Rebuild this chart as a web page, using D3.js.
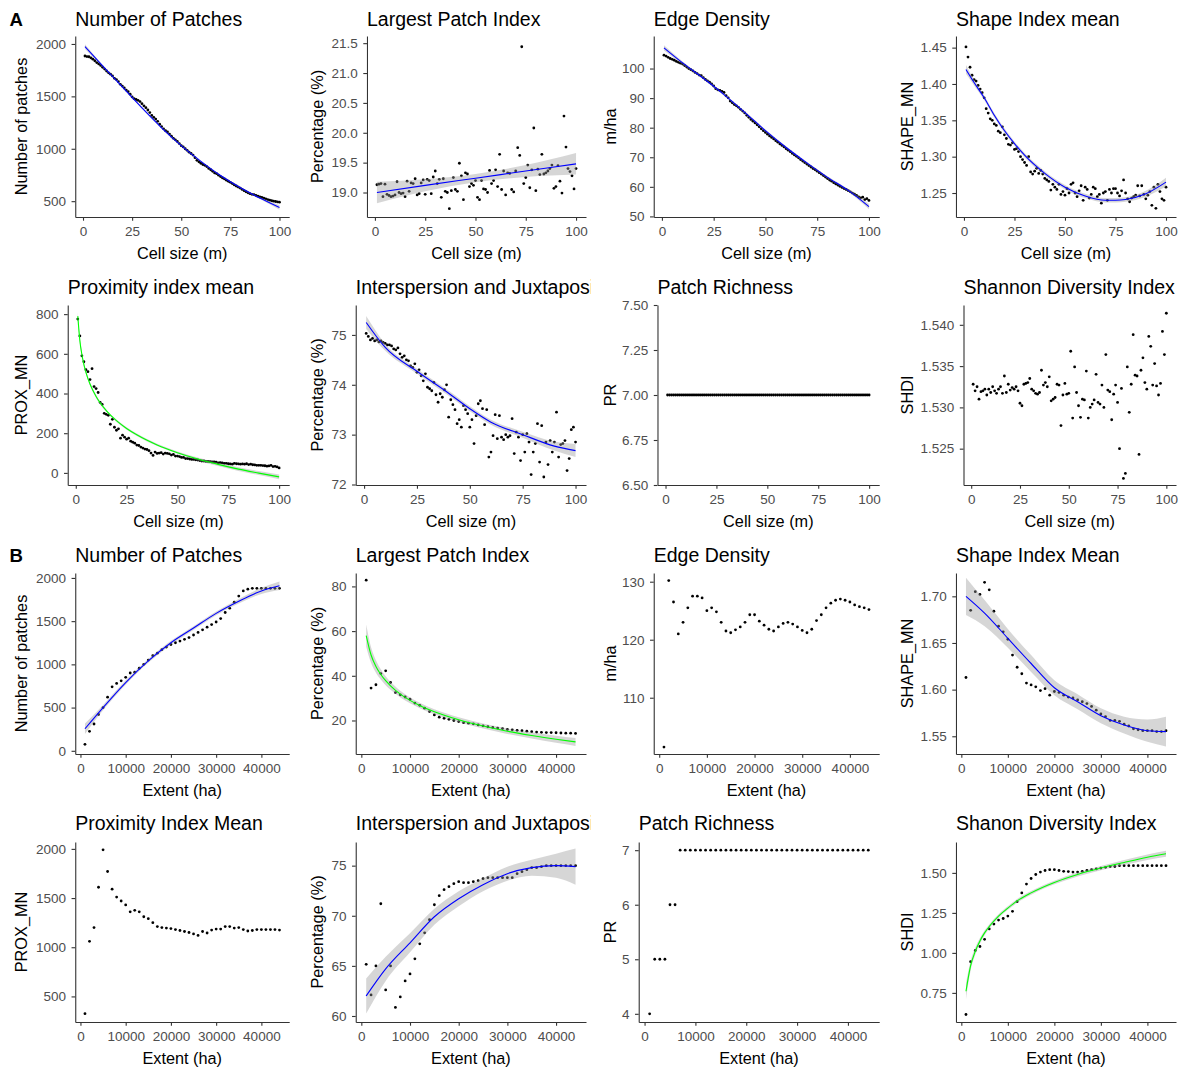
<!DOCTYPE html>
<html><head><meta charset="utf-8">
<script src="https://cdn.jsdelivr.net/npm/d3@7"></script>
<style>body{margin:0;background:#fff}svg{display:block}</style>
</head><body>
<svg id="c" width="1180" height="1070"></svg>
<script>
// ---------------- DATA ----------------
const cellSize = [1,2,3,4,5,6,7,8,9,10,11,12,13,14,15,16,17,18,19,20,21,22,23,24,25,26,27,28,29,30,31,32,33,34,35,36,37,38,39,40,41,42,43,44,45,46,47,48,49,50,51,52,53,54,55,56,57,58,59,60,61,62,63,64,65,66,67,68,69,70,71,72,73,74,75,76,77,78,79,80,81,82,83,84,85,86,87,88,89,90,91,92,93,94,95,96,97,98,99,100];
const extentHa = [1000,2000,3000,4000,5000,6000,7000,8000,9000,10000,11000,12000,13000,14000,15000,16000,17000,18000,19000,20000,21000,22000,23000,24000,25000,26000,27000,28000,29000,30000,31000,32000,33000,34000,35000,36000,37000,38000,39000,40000,41000,42000,43000,44000];

const xTicksA = ['0','25','50','75','100'];
const xTicksB = ['0','10000','20000','30000','40000'];

// A: cell size series
const npA = [1885,1880,1878,1868,1855,1840,1822,1810,1795,1778,1760,1742,1725,1712,1695,1672,1660,1640,1615,1598,1580,1560,1545,1520,1495,1478,1470,1462,1450,1430,1410,1392,1370,1345,1318,1300,1283,1262,1235,1212,1190,1172,1160,1140,1120,1100,1085,1070,1050,1030,1018,1000,985,968,955,940,915,890,875,862,850,842,830,812,800,785,770,762,748,735,722,712,700,690,680,668,655,645,635,625,612,600,590,580,572,565,562,555,548,540,535,528,522,515,510,505,500,497,493,490];
const lpiA = [19.13,19.14,19.15,18.93,19.14,18.97,18.95,18.93,18.94,18.96,19.18,19.00,18.98,18.99,18.93,19.19,19.02,19.16,19.15,19.23,18.96,18.98,19.16,19.21,18.97,19.22,19.20,18.98,19.26,19.36,19.15,19.22,18.92,19.23,19.02,19.00,18.73,19.03,19.25,19.05,19.02,19.49,19.28,18.88,19.33,19.31,19.10,19.15,19.12,19.20,18.92,18.88,19.20,19.06,19.05,19.00,19.37,19.15,19.20,19.38,19.10,19.64,19.05,19.36,18.96,19.33,19.32,19.05,19.01,19.36,19.75,19.62,21.44,19.15,19.25,19.46,19.08,19.38,20.08,19.03,19.39,19.30,19.64,19.31,19.33,19.36,19.40,19.46,19.07,19.10,19.45,19.19,18.99,20.28,19.76,19.40,19.35,19.28,19.06,19.40];
const edA = [104.5,104.2,103.8,103.4,103.1,102.8,102.4,102.1,101.8,101.5,101.0,100.5,100.0,99.6,99.2,98.7,98.3,97.8,97.6,96.9,96.3,95.8,95.4,94.8,94.1,93.2,92.8,92.6,92.3,91.9,90.8,90.1,89.0,88.4,87.8,87.4,86.9,86.2,85.6,85.0,84.2,83.5,82.8,82.2,81.6,81.0,80.3,79.6,79.0,78.4,77.8,77.2,76.7,76.2,75.6,75.1,74.5,74.0,73.5,72.9,72.4,71.9,71.3,70.8,70.3,69.8,69.2,68.7,68.2,67.7,67.2,66.7,66.2,65.8,65.3,64.8,64.3,63.8,63.3,62.8,62.3,61.9,61.4,61.0,60.6,60.2,59.8,59.4,59.1,58.7,58.3,57.9,57.5,57.1,56.6,56.3,56.5,55.7,56.0,55.4];
const shapeA = [1.451,1.437,1.423,1.412,1.406,1.404,1.398,1.393,1.388,1.381,1.366,1.360,1.352,1.350,1.345,1.343,1.335,1.333,1.341,1.330,1.325,1.317,1.316,1.319,1.310,1.311,1.307,1.300,1.296,1.292,1.288,1.300,1.279,1.276,1.280,1.284,1.277,1.281,1.276,1.270,1.268,1.266,1.254,1.262,1.258,1.255,1.262,1.248,1.252,1.247,1.256,1.250,1.262,1.264,1.250,1.245,1.253,1.260,1.240,1.258,1.255,1.243,1.248,1.258,1.256,1.245,1.248,1.236,1.250,1.252,1.240,1.255,1.250,1.256,1.256,1.250,1.246,1.253,1.268,1.250,1.242,1.238,1.243,1.245,1.247,1.260,1.246,1.260,1.248,1.242,1.247,1.252,1.233,1.258,1.229,1.262,1.252,1.242,1.240,1.258];
const proxA = [775,690,590,560,520,510,470,525,435,425,405,355,345,300,295,290,245,270,230,215,222,175,190,180,170,175,160,155,150,140,138,130,125,120,118,112,100,88,105,98,100,102,95,100,98,96,90,93,85,85,82,78,78,72,72,70,68,68,66,65,62,60,60,58,58,57,55,55,54,50,52,50,48,48,46,45,44,48,46,45,44,45,44,46,42,44,41,40,38,38,38,37,36,34,35,38,32,33,30,25];
const ijiA = [75.03,74.97,74.90,74.93,74.88,74.90,74.86,74.88,74.85,74.83,74.80,74.80,74.78,74.72,74.70,74.74,74.62,74.55,74.58,74.50,74.48,74.38,74.35,74.42,74.25,74.30,74.18,74.08,74.22,73.95,73.92,73.88,74.05,73.80,73.65,73.82,73.75,73.90,74.00,73.35,73.70,73.60,73.50,73.22,73.30,73.15,73.58,73.50,73.42,73.15,73.30,72.82,73.38,73.62,73.68,73.52,73.20,73.50,72.55,72.65,72.98,73.40,72.92,73.38,72.95,72.90,73.00,72.95,72.98,73.32,72.62,73.05,72.95,72.48,73.00,72.65,73.02,72.85,72.20,72.65,72.82,73.22,72.45,73.18,72.15,72.85,72.40,72.88,72.65,72.85,73.45,72.55,72.80,72.82,72.88,72.28,72.52,73.10,73.15,72.85];
const prA = [7,7,7,7,7,7,7,7,7,7,7,7,7,7,7,7,7,7,7,7,7,7,7,7,7,7,7,7,7,7,7,7,7,7,7,7,7,7,7,7,7,7,7,7,7,7,7,7,7,7,7,7,7,7,7,7,7,7,7,7,7,7,7,7,7,7,7,7,7,7,7,7,7,7,7,7,7,7,7,7,7,7,7,7,7,7,7,7,7,7,7,7,7,7,7,7,7,7,7,7];
const shdiA = [1.5328,1.5320,1.5325,1.5310,1.5319,1.5320,1.5322,1.5315,1.5322,1.5318,1.5325,1.5320,1.5317,1.5322,1.5325,1.5317,1.5338,1.5318,1.5328,1.5321,1.5324,1.5322,1.5325,1.5320,1.5305,1.5302,1.5328,1.5329,1.5330,1.5335,1.5322,1.5320,1.5317,1.5316,1.5318,1.5345,1.5327,1.5330,1.5325,1.5337,1.5308,1.5310,1.5312,1.5328,1.5327,1.5278,1.5315,1.5329,1.5316,1.5317,1.5368,1.5287,1.5349,1.5318,1.5302,1.5288,1.5310,1.5309,1.5344,1.5287,1.5300,1.5304,1.5309,1.5340,1.5306,1.5304,1.5327,1.5300,1.5364,1.5321,1.5319,1.5285,1.5316,1.5327,1.5306,1.5250,1.5323,1.5214,1.5220,1.5349,1.5294,1.5328,1.5388,1.5339,1.5338,1.5243,1.5345,1.5360,1.5330,1.5322,1.5386,1.5374,1.5327,1.5353,1.5326,1.5315,1.5329,1.5392,1.5364,1.5414];

// B: extent series
const npB = [75,225,310,420,500,620,740,780,810,850,900,910,955,1000,1050,1100,1130,1170,1200,1230,1250,1270,1290,1310,1340,1370,1400,1430,1460,1490,1530,1600,1650,1720,1790,1850,1870,1880,1880,1880,1880,1880,1880,1880];
const lpiB = [82.8,34.5,36.0,41.0,42.2,37.0,32.5,31.5,30.5,29.5,27.8,26.8,25.5,24.0,22.5,21.5,21.0,20.5,20.0,19.5,19.0,18.8,18.5,18.0,17.6,17.2,16.9,16.6,16.4,16.0,15.8,15.6,15.4,15.2,15.0,14.8,14.7,14.6,14.6,14.5,14.4,14.3,14.3,14.2];
const edB = [101.5,130.2,126.5,121.0,123.0,125.5,127.5,127.5,127.2,125.0,125.5,124.8,123.0,121.5,121.2,121.7,122.2,123.0,124.3,124.3,123.2,122.5,121.8,121.5,122.2,122.8,123.0,122.7,122.2,121.6,121.2,121.8,123.3,124.3,125.5,126.3,126.8,127.0,126.8,126.5,126.0,125.7,125.5,125.2];
const shapeB = [1.613,1.685,1.705,1.702,1.715,1.707,1.684,1.668,1.662,1.654,1.637,1.624,1.617,1.607,1.605,1.603,1.599,1.601,1.594,1.598,1.597,1.594,1.592,1.591,1.589,1.587,1.585,1.582,1.578,1.574,1.571,1.567,1.567,1.566,1.563,1.561,1.558,1.557,1.556,1.556,1.556,1.555,1.555,1.556];
const proxB = [325,1060,1200,1610,1990,1770,1590,1510,1470,1430,1360,1375,1360,1310,1290,1250,1210,1200,1195,1190,1180,1170,1160,1150,1135,1120,1160,1145,1175,1185,1185,1210,1210,1195,1200,1180,1165,1170,1180,1180,1180,1180,1180,1175];
const ijiB = [65.15,62.1,65.0,71.2,62.6,65.0,60.85,61.9,63.5,64.2,65.7,67.2,68.3,69.6,71.1,72.0,72.6,72.9,73.2,73.4,73.3,73.3,73.4,73.5,73.7,73.8,73.8,73.8,73.8,73.8,73.8,74.2,74.4,74.6,74.8,74.8,74.9,75.0,75.0,75.0,75.0,75.0,75.0,75.0];
const prB = [4,5,5,5,6,6,7,7,7,7,7,7,7,7,7,7,7,7,7,7,7,7,7,7,7,7,7,7,7,7,7,7,7,7,7,7,7,7,7,7,7,7,7,7];
const shdiB = [0.615,0.945,1.015,1.04,1.085,1.15,1.18,1.205,1.215,1.23,1.26,1.32,1.375,1.43,1.465,1.49,1.505,1.515,1.52,1.52,1.515,1.51,1.508,1.505,1.505,1.51,1.515,1.52,1.525,1.53,1.535,1.54,1.54,1.545,1.545,1.545,1.545,1.545,1.545,1.545,1.545,1.545,1.545,1.545];

// fitted smooths: x, fitted value, half-width of confidence band
const npAFitX = [1,10,20,30,40,50,60,70,80,90,100];
const npAFitY = [1975,1790,1590,1390,1200,1030,880,745,630,530,440];
const npAFitH = [22,10,8,8,8,8,8,8,8,10,22];
const lpiAFitX = [1,25,50,75,100];
const lpiAFitY = [19.0,19.12,19.24,19.36,19.48];
const lpiAFitH = [0.18,0.10,0.07,0.10,0.18];
const edAFitX = [1,10,20,30,40,50,60,70,80,90,100];
const edAFitY = [107.0,101.9,96.7,91.2,85.2,79.0,73.3,68.1,63.2,58.8,53.3];
const edAFitH = [0.9,0.5,0.4,0.4,0.4,0.4,0.4,0.4,0.4,0.5,0.9];
const shapeAFitX = [1,5,10,15,20,25,30,40,50,60,70,75,80,90,100];
const shapeAFitY = [1.420,1.402,1.381,1.357,1.336,1.318,1.302,1.277,1.258,1.246,1.240,1.240,1.241,1.249,1.265];
const shapeAFitH = [0.006,0.004,0.003,0.003,0.003,0.003,0.003,0.003,0.003,0.003,0.003,0.003,0.003,0.004,0.006];
const proxAFitX = [1,2,3,4,5,7,10,15,20,25,30,40,50,60,70,80,90,100];
const proxAFitY = [790,668,597,546,507,448,385,314,263,224,192,141,102,70,43,19,-1,-20];
const proxAFitH = [20,15,12,10,9,8,7,6,6,6,6,6,6,7,8,9,10,12];
const ijiAFitX = [1,10,25,40,50,60,75,90,100];
const ijiAFitY = [75.25,74.75,74.27,73.83,73.52,73.25,73.0,72.77,72.68];
const ijiAFitH = [0.13,0.07,0.05,0.05,0.05,0.05,0.06,0.09,0.13];

const npBFitX = [1000,5000,10000,15000,20000,25000,30000,35000,40000,44000];
const npBFitY = [255,500,790,1040,1250,1420,1590,1730,1850,1910];
const npBFitH = [60,30,25,22,22,22,22,25,35,50];
const lpiBFitX = [1000,2000,3000,4000,5000,6000,8000,10000,12000,15000,20000,25000,30000,35000,40000,44000];
const lpiBFitY = [58,49.3,44.2,40.6,37.8,35.5,31.8,29.0,26.7,23.9,20.3,17.5,15.2,13.3,11.6,10.4];
const lpiBFitH = [5,3.5,2.8,2.3,2,1.8,1.5,1.3,1.2,1.1,1.1,1.1,1.2,1.4,1.6,1.8];
const shapeBFitX = [1000,5000,10000,15000,20000,25000,30000,35000,40000,44000];
const shapeBFitY = [1.700,1.682,1.655,1.628,1.602,1.587,1.572,1.562,1.556,1.555];
const shapeBFitH = [0.020,0.014,0.010,0.009,0.008,0.008,0.008,0.009,0.012,0.016];
const ijiBFitX = [1000,5000,10000,15000,20000,25000,30000,35000,40000,44000];
const ijiBFitY = [62.0,64.7,67.3,69.9,71.7,73.1,74.2,74.8,75.0,74.9];
const ijiBFitH = [1.75,1.2,0.95,0.8,0.75,0.65,0.7,0.8,1.2,1.8];
const shdiBFitX = [1000,2000,3000,4000,5000,6000,8000,10000,12000,15000,20000,25000,30000,35000,40000,44000];
const shdiBFitY = [0.76,0.92,1.01,1.075,1.125,1.165,1.23,1.28,1.325,1.375,1.44,1.49,1.53,1.565,1.598,1.62];
const shdiBFitH = [0.05,0.03,0.022,0.018,0.015,0.013,0.012,0.011,0.011,0.011,0.011,0.012,0.013,0.015,0.017,0.019];

// y tick labels
const npATicks = ['500','1000','1500','2000'];
const lpiATicks = ['19.0','19.5','20.0','20.5','21.0','21.5'];
const edATicks = ['50','60','70','80','90','100'];
const shapeATicks = ['1.25','1.30','1.35','1.40','1.45'];
const proxATicks = ['0','200','400','600','800'];
const ijiATicks = ['72','73','74','75'];
const prATicks = ['6.50','6.75','7.00','7.25','7.50'];
const shdiATicks = ['1.525','1.530','1.535','1.540'];
const npBTicks = ['0','500','1000','1500','2000'];
const lpiBTicks = ['20','40','60','80'];
const edBTicks = ['110','120','130'];
const shapeBTicks = ['1.55','1.60','1.65','1.70'];
const proxBTicks = ['500','1000','1500','2000'];
const ijiBTicks = ['60','65','70','75'];
const prBTicks = ['4','5','6','7'];
const shdiBTicks = ['0.75','1.00','1.25','1.50'];

// ---------------- LAYOUT / STYLE ----------------
const FONT = '"Liberation Sans", Arial, Helvetica, sans-serif';
const BLUE = '#0000ff', GREEN = '#00ff00';
const rowTop = [36, 305, 573, 842];
const rowBottom = [217, 485, 754, 1022];
const rowTitleBase = [26, 294, 562, 830];
const colLabelLeft = [36, 331.5, 622, 920.5];
const colYTitleX = [20.8, 316.8, 610, 907.6];
const colRight = [289.2, 586, 879.2, 1176];
const colClip = [[0,295],[295,591],[591,886],[886,1180]];

const panels = [
 {row:0,col:0,title:'Number of Patches',yt:'Number of patches',xt:'Cell size (m)',x:cellSize,y:npA,dom:[349,2076],yl:npATicks,xl:xTicksA,fit:[npAFitX,npAFitY,npAFitH],fc:BLUE},
 {row:0,col:1,title:'Largest Patch Index',yt:'Percentage (%)',xt:'Cell size (m)',x:cellSize,y:lpiA,dom:[18.59,21.62],yl:lpiATicks,xl:xTicksA,fit:[lpiAFitX,lpiAFitY,lpiAFitH],fc:BLUE},
 {row:0,col:2,title:'Edge Density',yt:'m/ha',xt:'Cell size (m)',x:cellSize,y:edA,dom:[49.8,111],yl:edATicks,xl:xTicksA,fit:[edAFitX,edAFitY,edAFitH],fc:BLUE},
 {row:0,col:3,title:'Shape Index mean',yt:'SHAPE_MN',xt:'Cell size (m)',x:cellSize,y:shapeA,dom:[1.217,1.466],yl:shapeATicks,xl:xTicksA,fit:[shapeAFitX,shapeAFitY,shapeAFitH],fc:BLUE},
 {row:1,col:0,title:'Proximity index mean',yt:'PROX_MN',xt:'Cell size (m)',x:cellSize,y:proxA,dom:[-61,846],yl:proxATicks,xl:xTicksA,fit:[proxAFitX,proxAFitY,proxAFitH],fc:GREEN},
 {row:1,col:1,title:'Interspersion and Juxtaposition',yt:'Percentage (%)',xt:'Cell size (m)',x:cellSize,y:ijiA,dom:[71.99,75.6],yl:ijiATicks,xl:xTicksA,fit:[ijiAFitX,ijiAFitY,ijiAFitH],fc:BLUE},
 {row:1,col:2,title:'Patch Richness',yt:'PR',xt:'Cell size (m)',x:cellSize,y:prA,dom:[6.5,7.5],yl:prATicks,xl:xTicksA,fit:null},
 {row:1,col:3,title:'Shannon Diversity Index',yt:'SHDI',xt:'Cell size (m)',x:cellSize,y:shdiA,dom:[1.5206,1.5424],yl:shdiATicks,xl:xTicksA,fit:null},
 {row:2,col:0,title:'Number of Patches',yt:'Number of patches',xt:'Extent (ha)',x:extentHa,y:npB,dom:[-37,2057],yl:npBTicks,xl:xTicksB,fit:[npBFitX,npBFitY,npBFitH],fc:BLUE},
 {row:2,col:1,title:'Largest Patch Index',yt:'Percentage (%)',xt:'Extent (ha)',x:extentHa,y:lpiB,dom:[5,86],yl:lpiBTicks,xl:xTicksB,fit:[lpiBFitX,lpiBFitY,lpiBFitH],fc:GREEN},
 {row:2,col:2,title:'Edge Density',yt:'m/ha',xt:'Extent (ha)',x:extentHa,y:edB,dom:[100.3,131.5],yl:edBTicks,xl:xTicksB,fit:null},
 {row:2,col:3,title:'Shape Index Mean',yt:'SHAPE_MN',xt:'Extent (ha)',x:extentHa,y:shapeB,dom:[1.531,1.725],yl:shapeBTicks,xl:xTicksB,fit:[shapeBFitX,shapeBFitY,shapeBFitH],fc:BLUE},
 {row:3,col:0,title:'Proximity Index Mean',yt:'PROX_MN',xt:'Extent (ha)',x:extentHa,y:proxB,dom:[240,2070],yl:proxBTicks,xl:xTicksB,fit:null},
 {row:3,col:1,title:'Interspersion and Juxtaposition',yt:'Percentage (%)',xt:'Extent (ha)',x:extentHa,y:ijiB,dom:[59.4,77.36],yl:ijiBTicks,xl:xTicksB,fit:[ijiBFitX,ijiBFitY,ijiBFitH],fc:BLUE},
 {row:3,col:2,title:'Patch Richness',yt:'PR',xt:'Extent (ha)',x:extentHa,y:prB,dom:[3.85,7.15],yl:prBTicks,xl:xTicksB,fit:null},
 {row:3,col:3,title:'Shanon Diversity Index',yt:'SHDI',xt:'Extent (ha)',x:extentHa,y:shdiB,dom:[0.568,1.693],yl:shdiBTicks,xl:xTicksB,fit:[shdiBFitX,shdiBFitY,shdiBFitH],fc:GREEN}
];

// ---------------- DRAW ----------------
const svg = d3.select('#c');
svg.append('rect').attr('width',1180).attr('height',1070).attr('fill','#fff');
const defs = svg.append('defs');
colClip.forEach((c,i)=>{
  defs.append('clipPath').attr('id','cc'+i).append('rect')
    .attr('x',c[0]).attr('y',0).attr('width',c[1]-c[0]).attr('height',1070);
});

function styleAxis(g){
  g.attr('font-family',FONT).attr('font-size',13.5).attr('color','#333');
  g.select('.domain').attr('stroke','#333').attr('stroke-width',1.1);
  g.selectAll('.tick line').attr('stroke','#333').attr('stroke-width',1.1);
  g.selectAll('.tick text').attr('fill','#4d4d4d');
}

function drawPanel(p){
  const top = rowTop[p.row], bottom = rowBottom[p.row];
  const g = svg.append('g');
  const y = d3.scaleLinear().domain(p.dom).range([bottom, top]);
  const yMap = new Map(p.yl.map(s=>[+s, s]));
  const yAxisG = g.append('g');
  yAxisG.call(d3.axisLeft(y).tickValues(p.yl.map(Number)).tickFormat(d=>yMap.get(d))
    .tickSizeInner(3.7).tickSizeOuter(0).tickPadding(5.5));
  styleAxis(yAxisG);
  let maxW = 0;
  yAxisG.selectAll('.tick text').each(function(){ maxW = Math.max(maxW, this.getComputedTextLength()); });
  const left = colLabelLeft[p.col] + maxW + 9.2;
  yAxisG.attr('transform', `translate(${left},0)`);

  const x0 = d3.min(p.x), x1 = d3.max(p.x), sp = x1 - x0;
  const x = d3.scaleLinear().domain([x0 - 0.05*sp, x1 + 0.05*sp]).range([left, colRight[p.col]]);
  const xMap = new Map(p.xl.map(s=>[+s, s]));
  const xAxisG = g.append('g').attr('transform',`translate(0,${bottom})`);
  xAxisG.call(d3.axisBottom(x).tickValues(p.xl.map(Number)).tickFormat(d=>xMap.get(d))
    .tickSizeInner(3.7).tickSizeOuter(0).tickPadding(5.8));
  styleAxis(xAxisG);

  // points
  g.append('g').selectAll('circle').data(p.x.map((d,i)=>[d,p.y[i]])).join('circle')
    .attr('cx',d=>x(d[0])).attr('cy',d=>y(d[1])).attr('r',1.4).attr('fill','#000');

  // smooth with confidence band
  if(p.fit){
    const [fx, fy, fh] = p.fit;
    const pts = fx.map((d,i)=>({x:d, y:fy[i], h:fh[i]}));
    g.append('path').datum(pts)
      .attr('d', d3.area().x(d=>x(d.x)).y0(d=>y(d.y-d.h)).y1(d=>y(d.y+d.h)).curve(d3.curveMonotoneX))
      .attr('fill','#999999').attr('fill-opacity',0.4);
    g.append('path').datum(pts)
      .attr('d', d3.line().x(d=>x(d.x)).y(d=>y(d.y)).curve(d3.curveMonotoneX))
      .attr('fill','none').attr('stroke',p.fc).attr('stroke-width',1.1);
  }

  // titles
  g.append('text').attr('x',left).attr('y',rowTitleBase[p.row])
    .attr('font-family',FONT).attr('font-size',19.5).attr('fill','#000')
    .attr('clip-path',`url(#cc${p.col})`).text(p.title);
  g.append('text').attr('transform',`translate(${colYTitleX[p.col]},${(top+bottom)/2}) rotate(-90)`)
    .attr('text-anchor','middle').attr('dy','0.35em')
    .attr('font-family',FONT).attr('font-size',16.3).attr('fill','#000').text(p.yt);
  g.append('text').attr('x',(left+colRight[p.col])/2).attr('y',bottom+36.3).attr('dy','0.35em')
    .attr('text-anchor','middle').attr('font-family',FONT).attr('font-size',16.3).attr('fill','#000').text(p.xt);
}

panels.forEach(drawPanel);

svg.append('text').attr('x',9.5).attr('y',26).attr('font-family',FONT).attr('font-weight','bold')
  .attr('font-size',18.6).attr('fill','#000').text('A');
svg.append('text').attr('x',9.5).attr('y',562).attr('font-family',FONT).attr('font-weight','bold')
  .attr('font-size',18.6).attr('fill','#000').text('B');
</script>
</body></html>
